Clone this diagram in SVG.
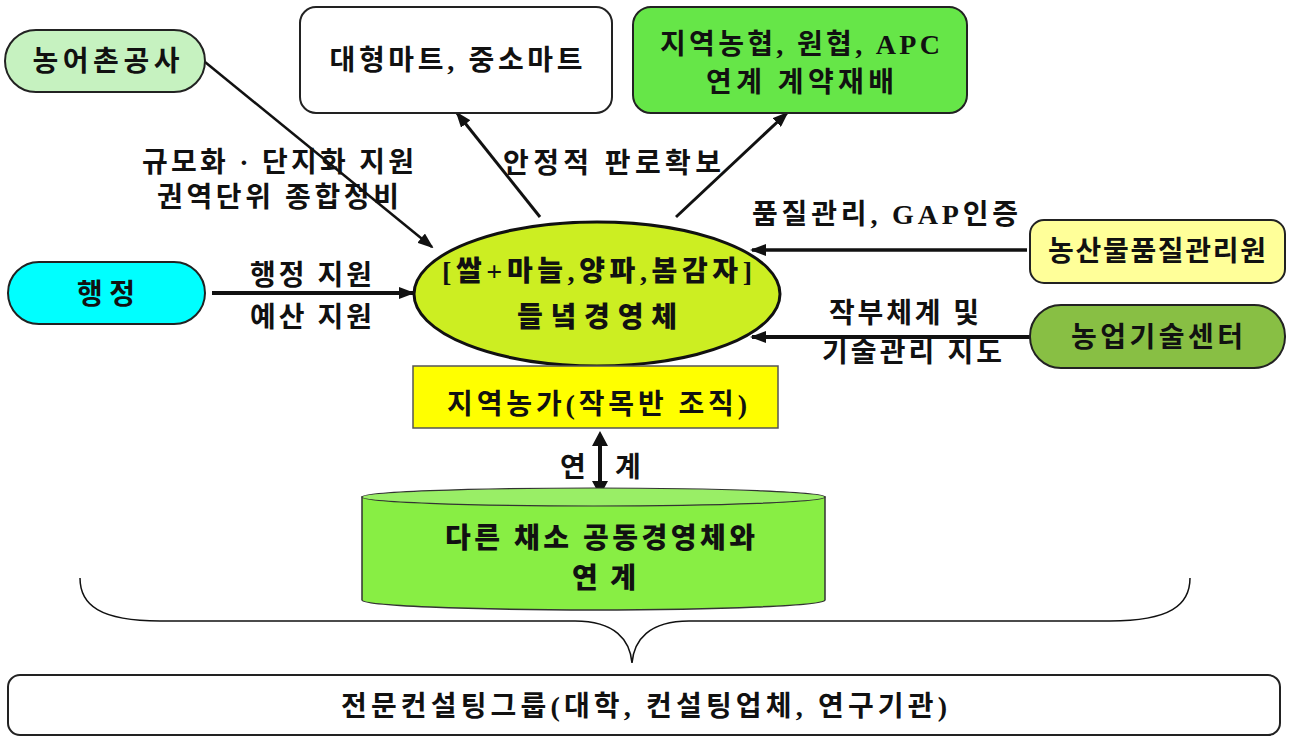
<svg xmlns="http://www.w3.org/2000/svg" width="1289" height="739" viewBox="0 0 1289 739">
<style>
.t{font-family:"Liberation Serif","Noto Sans CJK KR",serif;font-size:28px;fill:#111;text-anchor:middle;dominant-baseline:central;font-weight:600}
.b{font-weight:900}
.n{stroke:#222;stroke-width:2}
.c{stroke:#111;fill:none}
</style>
<defs>
<marker id="ah" markerWidth="16" markerHeight="12" refX="14" refY="6" orient="auto" markerUnits="userSpaceOnUse"><path d="M0,0 L16,6 L0,12 Z" fill="#111"/></marker>
</defs>
<rect width="1289" height="739" fill="#fff"/>
<g id="connectors">
<line class="c" x1="205" y1="62" x2="432" y2="247" stroke-width="2.5" marker-end="url(#ah)"/>
<line class="c" x1="212" y1="293" x2="413" y2="293" stroke-width="4" marker-end="url(#ah)"/>
<line class="c" x1="540" y1="217" x2="457" y2="113" stroke-width="3" marker-end="url(#ah)"/>
<line class="c" x1="676" y1="217" x2="787" y2="113" stroke-width="3" marker-end="url(#ah)"/>
<line class="c" x1="1027" y1="250" x2="752" y2="250" stroke-width="3.5" marker-end="url(#ah)"/>
<line class="c" x1="1030" y1="337" x2="752" y2="337" stroke-width="4" marker-end="url(#ah)"/>
<line class="c" x1="600" y1="440" x2="600" y2="488" stroke-width="4"/>
<path d="M600,431 L592,446 L608,446 Z M600,496 L592,481 L608,481 Z" fill="#111"/>
<path class="c" stroke-width="1.5" stroke="#444" d="M80,578 C80,605 100,621 160,621 L575,621 C615,621 630,640 632,663 C634,640 649,621 689,621 L1110,621 C1170,621 1190,605 1190,578"/>
<text class="t" x="278" y="162" textLength="272">규모화 · 단지화 지원</text>
<text class="t" x="278" y="197" textLength="242">권역단위 종합정비</text>
<text class="t" x="311" y="275" textLength="122">행정 지원</text>
<text class="t" x="311" y="317" textLength="122">예산 지원</text>
<text class="t" x="612" y="163" textLength="218">안정적 판로확보</text>
<text class="t" x="885" y="214" textLength="266">품질관리, GAP인증</text>
<text class="t" x="904" y="313" textLength="150">작부체계 및</text>
<text class="t" x="912" y="352" textLength="180">기술관리 지도</text>
<text class="t" x="573" y="467">연</text>
<text class="t" x="628" y="467">계</text>
</g>
<g id="n-nongeochon"><rect class="n" x="5" y="30" width="200" height="62" rx="31" fill="#c6f2c0"/><text class="t" x="106" y="61" textLength="147">농어촌공사</text></g>
<g id="n-mart"><rect class="n" x="300" y="7" width="312" height="106" rx="16" fill="#fff"/><text class="t" x="456" y="60" textLength="253">대형마트, 중소마트</text></g>
<g id="n-nonghyup"><rect class="n" x="633" y="7" width="334" height="106" rx="18" fill="#66e648"/><text class="t" x="800" y="44" textLength="280">지역농협, 원협, APC</text><text class="t" x="800" y="82" textLength="188">연계 계약재배</text></g>
<g id="n-haengjeong"><rect class="n" x="8" y="262" width="197" height="62" rx="31" fill="#00ffff"/><text class="t" x="106" y="294" textLength="58">행정</text></g>
<g id="n-center"><ellipse cx="597" cy="294" rx="183" ry="72" fill="#ccee22" stroke="#111" stroke-width="3"/><text class="t b" x="597" y="271" font-size="32" textLength="310">[쌀+마늘,양파,봄감자]</text><text class="t b" x="597" y="317" font-size="32" textLength="160">들녘경영체</text></g>
<g id="n-quality"><rect class="n" x="1030" y="220" width="255" height="63" rx="14" fill="#ffff99"/><text class="t" x="1157" y="251" textLength="218">농산물품질관리원</text></g>
<g id="n-tech"><rect class="n" x="1030" y="305" width="255" height="63" rx="31" fill="#88bf44"/><text class="t" x="1157" y="337" textLength="172">농업기술센터</text></g>
<g id="n-farm"><rect x="413" y="366" width="365" height="62" fill="#ffff00" stroke="#555" stroke-width="1.5"/><text class="t" x="597" y="404" textLength="300">지역농가(작목반 조직)</text></g>
<g id="n-cylinder"><path d="M362,497 L362,600 A231.5,10 0 0 0 825,600 L825,497 Z" fill="#88ee44" stroke="#333" stroke-width="1.5"/><ellipse cx="593.5" cy="497" rx="231.5" ry="9" fill="#99ee66" stroke="#333" stroke-width="1.2"/><text class="t b" x="600" y="538" font-size="29" textLength="310">다른 채소 공동경영체와</text><text class="t b" x="604" y="578" font-size="29" textLength="64">연계</text></g>
<g id="n-consulting"><rect class="n" x="8" y="675" width="1272" height="60" rx="12" fill="#fff" stroke-width="1.5"/><text class="t" x="644" y="706" font-size="30" textLength="606">전문컨설팅그룹(대학, 컨설팅업체, 연구기관)</text></g>
</svg>
